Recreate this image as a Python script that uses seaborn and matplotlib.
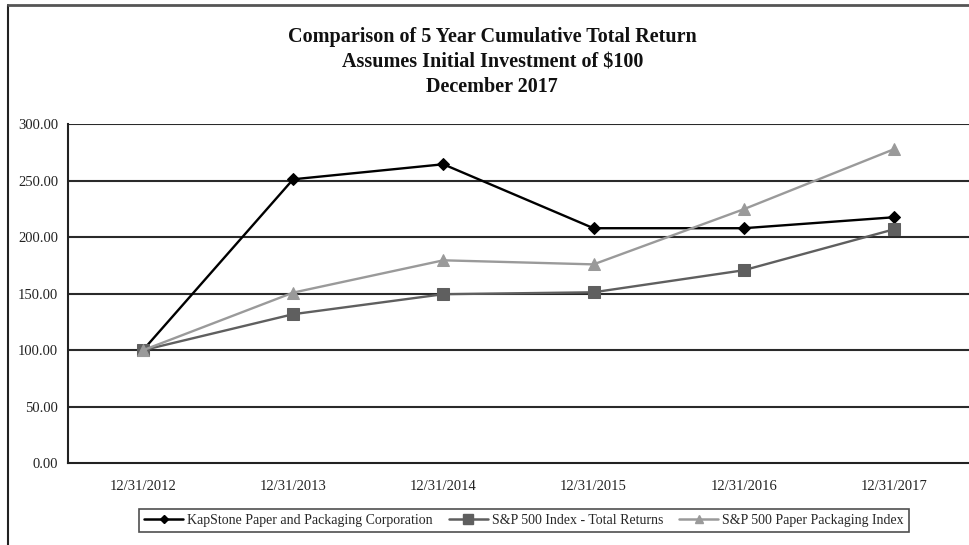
import matplotlib
matplotlib.use("Agg")
import matplotlib.pyplot as plt
from matplotlib.lines import Line2D
import pandas as pd
import seaborn as sns

# Data
dates = ["12/31/2012", "12/31/2013", "12/31/2014", "12/31/2015", "12/31/2016", "12/31/2017"]
kapstone = [100.0, 251.3, 264.6, 208.0, 208.0, 217.7]
sp500 = [100.0, 131.9, 149.6, 151.3, 170.8, 207.0]
paper_pkg = [100.0, 151.0, 179.6, 176.0, 224.8, 277.9]
series_names = ["KapStone Paper and Packaging Corporation",
                "S&P 500 Index - Total Returns",
                "S&P 500 Paper Packaging Index"]

df = pd.DataFrame({
    "Date": dates * 3,
    "Series": [series_names[0]] * 6 + [series_names[1]] * 6 + [series_names[2]] * 6,
    "Value": kapstone + sp500 + paper_pkg,
})

sns.set_style("white")
plt.rcParams["font.family"] = ["Liberation Serif", "DejaVu Serif"]

colors = {series_names[0]: "#000000", series_names[1]: "#5f5f5f", series_names[2]: "#9a9a9a"}
markers = {series_names[0]: "D", series_names[1]: "s", series_names[2]: "^"}
msizes = {series_names[0]: 6, series_names[1]: 9, series_names[2]: 8}

fig = plt.figure(figsize=(9.69, 5.45), dpi=100)
ax = fig.add_axes([0.070, 0.150, 0.930, 0.622])

# horizontal grid lines
for yv in range(50, 301, 50):
    ax.axhline(yv, color="#2a2a2a", lw=1.5, zorder=1)

for name in series_names:
    sub = df[df["Series"] == name]
    sns.lineplot(data=sub, x="Date", y="Value", ax=ax, color=colors[name],
                 marker=markers[name], markersize=msizes[name],
                 markeredgecolor=colors[name], lw=1.7, zorder=3,
                 sort=False, legend=False)

ax.set_xlim(-0.5, 5.5)
ax.set_ylim(0, 300)
ax.set_yticks(range(0, 301, 50))
ax.set_yticklabels([f"{v:.2f}" for v in range(0, 301, 50)])
ax.set_xlabel("")
ax.set_ylabel("")
ax.tick_params(axis="y", direction="out", length=4, width=1.2, labelsize=10.5, colors="#222222", pad=3)
ax.tick_params(axis="x", direction="in", length=4, width=1.2, labelsize=10.5, colors="#222222", pad=12)
for s in ["top", "right"]:
    ax.spines[s].set_visible(False)
for s in ["left", "bottom"]:
    ax.spines[s].set_color("#222222")
    ax.spines[s].set_linewidth(1.5)

# title
fig.text(0.508, 0.932, "Comparison of 5 Year Cumulative Total Return", ha="center", va="center",
         fontsize=14.5, fontweight="bold", color="#111111")
fig.text(0.508, 0.886, "Assumes Initial Investment of $100", ha="center", va="center",
         fontsize=14.5, fontweight="bold", color="#111111")
fig.text(0.508, 0.840, "December 2017", ha="center", va="center",
         fontsize=14.5, fontweight="bold", color="#111111")

# legend
handles = [Line2D([0], [0], color=colors[n], marker=markers[n], markersize=msizes[n] * 0.75,
                  lw=1.8) for n in series_names]
leg = fig.legend(handles, series_names, loc="center", bbox_to_anchor=(0.541, 0.045), ncol=3,
                 frameon=True, fancybox=False, fontsize=10, handlelength=2.8, handletextpad=0.3,
                 columnspacing=1.15, borderpad=0.35, borderaxespad=0, edgecolor="#222222")
leg.get_frame().set_linewidth(1.2)

# outer border (left and top visible)
fig.add_artist(Line2D([0.008, 0.008], [0.0, 0.99], color="#222222", lw=1.5, transform=fig.transFigure))
fig.add_artist(Line2D([0.008, 1.0], [0.99, 0.99], color="#555555", lw=2, transform=fig.transFigure))

fig.savefig("out.png", dpi=100)
